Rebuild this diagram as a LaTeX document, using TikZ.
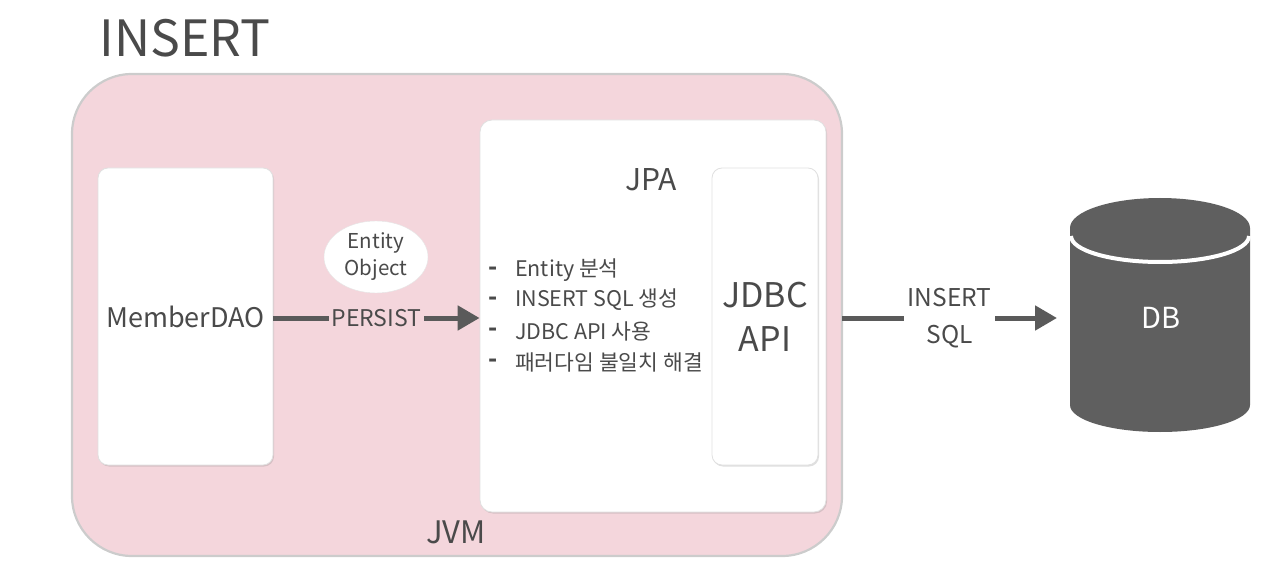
\documentclass[tikz,border=0pt]{standalone}
\usepackage{fontspec}
\setmainfont{Noto Sans CJK KR}
\usetikzlibrary{arrows.meta,shadows,shapes.geometric}
\definecolor{pinkbg}{HTML}{F4D6DC}
\definecolor{jvmborder}{HTML}{CCCCCC}
\definecolor{txt}{HTML}{4A4A4A}
\definecolor{arr}{HTML}{5A5A5A}
\definecolor{dbcol}{HTML}{5F5F5F}
\tikzset{
  whitebox/.style={draw=black!12, fill=white, rounded corners=10pt, line width=0.8pt,
    drop shadow={shadow xshift=1pt, shadow yshift=-1.5pt, opacity=0.25}},
  lbl/.style={text=txt, inner sep=0pt},
  conn/.style={draw=arr, line width=5pt, -{Triangle[length=22pt,width=24pt]}},
  listfont/.style={font=\fontsize{21.5}{26}\selectfont},
}
\begin{document}
\begin{tikzpicture}[x=1pt,y=1pt]
\useasboundingbox (0,0) rectangle (1280,-580);
% title
\node[lbl, font=\fontsize{50}{56}\selectfont] (title) at (185,-38) {INSERT};
% JVM
\node[draw=jvmborder, fill=pinkbg, line width=2.2pt, rounded corners=60pt,
  minimum width=770pt, minimum height=482pt, inner sep=0pt] (jvm) at (457,-315) {};
\node[lbl, font=\fontsize{31}{36}\selectfont] (jvmlbl) at (456,-532) {JVM};
% MemberDAO
\node[whitebox, minimum width=175pt, minimum height=297pt, inner sep=0pt,
  text=txt, font=\fontsize{27}{32}\selectfont] (dao) at (185.5,-316.5) {MemberDAO};
% JPA
\node[whitebox, rounded corners=12pt, minimum width=346pt, minimum height=392pt, inner sep=0pt] (jpa) at (653,-316) {};
\node[lbl, font=\fontsize{30}{34}\selectfont] (jpalbl) at (651,-180) {JPA};
% JDBC API
\node[whitebox, minimum width=106pt, minimum height=297pt, inner sep=0pt,
  text=txt, font=\fontsize{34}{44}\selectfont, align=center] (jdbc) at (765,-316.5) {JDBC\\API};
% list
\foreach \i/\y/\t in {1/270/{Entity 분석}, 2/300/{INSERT SQL 생성}, 3/331/{JDBC API 사용}, 4/362/{패러다임 불일치 해결}} {
  \node[lbl, font=\fontsize{24}{26}\bfseries\selectfont] (d\i) at (493,-\y-1) {-};
  \node[lbl, listfont, anchor=west] (l\i) at (515,-\y) {\t};
}
% Entity object
\node[ellipse, fill=white, draw=black!10, minimum width=104pt, minimum height=72pt, inner sep=0pt,
  text=txt, font=\fontsize{20.5}{27}\selectfont, align=center] (ent) at (376,-257) {Entity\\Object};
% DB cylinder
\node[minimum width=180pt, minimum height=234pt, inner sep=0pt] (db) at (1160,-315) {};
\fill[dbcol] (1250,-228) arc[start angle=0, end angle=180, x radius=90pt, y radius=30pt]
  -- (1070,-405) arc[start angle=180, end angle=360, x radius=90pt, y radius=27pt] -- cycle;
\draw[white, line width=4pt] (1071,-236) arc[start angle=180, end angle=360, x radius=89pt, y radius=26pt];
\node[text=white, font=\fontsize{29}{34}\selectfont, inner sep=0pt] (dblbl) at (1161,-318) {DB};
% connectors
\coordinate (jvmR) at (842,-318);
\coordinate (dbL) at (1057,-318);
\draw[conn] (dao.east |- 0,-318) -- node[fill=pinkbg, text=txt, inner sep=3pt, font=\fontsize{23}{26}\selectfont] {PERSIST} (jpa.west |- 0,-318);
\draw[conn] (jvmR) -- node[fill=white, text=txt, inner sep=4pt, font=\fontsize{24.5}{37}\selectfont, align=center] {INSERT\\SQL} (dbL);
\end{tikzpicture}
\end{document}
